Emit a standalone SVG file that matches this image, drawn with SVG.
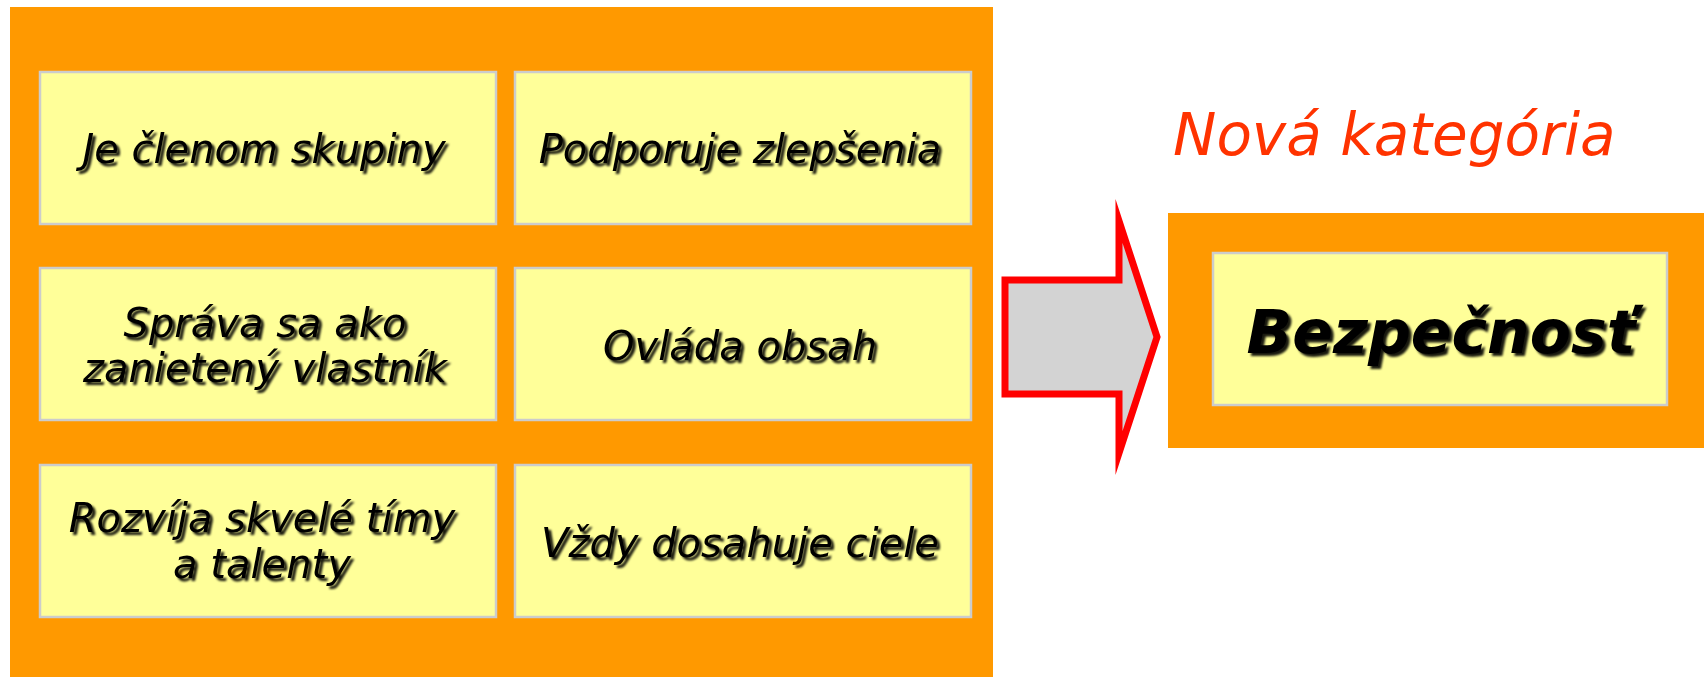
<svg xmlns="http://www.w3.org/2000/svg" width="1704" height="677" viewBox="0 0 1704 677">
  <style>
    .panel { fill: #FF9900; }
    .card { fill: #FFFF99; stroke: #CCCCCC; stroke-width: 2.5; }
    .label { font-family: "DejaVu Sans", Verdana, sans-serif; font-style: italic; font-size: 40px; fill: #000; text-anchor: middle; filter: url(#shadow); }
    .big { font-family: "DejaVu Sans", Verdana, sans-serif; font-style: italic; font-weight: bold; font-size: 60px; fill: #000; text-anchor: middle; filter: url(#shadow); }
    .title { font-family: "DejaVu Sans", Verdana, sans-serif; font-style: italic; font-size: 58px; fill: #FF3300; }
  </style>
  <defs>
    <filter id="shadow" x="-10%" y="-30%" width="120%" height="160%">
      <feDropShadow dx="3" dy="3" stdDeviation="1" flood-color="#000" flood-opacity="0.9"/>
    </filter>
  </defs>

  <rect width="1704" height="677" fill="#FFFFFF"/>

  <!-- left panel with six traits -->
  <g id="traits-panel">
    <rect class="panel" x="10" y="7" width="983" height="670"/>
  </g>

  <g id="trait-member">
    <rect class="card" x="40" y="72" width="456" height="152"/>
    <text class="label" x="264" y="163">Je členom skupiny</text>
  </g>
  <g id="trait-improvements">
    <rect class="card" x="515" y="72" width="456" height="152"/>
    <text class="label" x="740" y="163">Podporuje zlepšenia</text>
  </g>
  <g id="trait-owner">
    <rect class="card" x="40" y="268" width="456" height="152"/>
    <text class="label" x="265" y="337">Správa sa ako</text>
    <text class="label" x="265" y="382">zanietený vlastník</text>
  </g>
  <g id="trait-content">
    <rect class="card" x="515" y="268" width="456" height="152"/>
    <text class="label" x="740" y="360">Ovláda obsah</text>
  </g>
  <g id="trait-teams">
    <rect class="card" x="40" y="465" width="456" height="152"/>
    <text class="label" x="262" y="532">Rozvíja skvelé tímy</text>
    <text class="label" x="262" y="578">a talenty</text>
  </g>
  <g id="trait-goals">
    <rect class="card" x="515" y="465" width="456" height="152"/>
    <text class="label" x="740" y="557">Vždy dosahuje ciele</text>
  </g>

  <!-- block arrow -->
  <g id="connectors">
    <polygon points="1005,280 1119,280 1119,221 1157,337 1119,453 1119,394 1005,394"
             fill="#D3D3D3" stroke="#FF0000" stroke-width="7" stroke-linejoin="miter" stroke-miterlimit="10"/>
  </g>

  <!-- new category -->
  <g id="category-title">
    <text class="title" x="1173" y="155">Nová kategória</text>
  </g>
  <g id="category-safety">
    <rect class="panel" x="1168" y="213" width="536" height="235"/>
    <rect class="card" x="1213" y="253" width="454" height="152"/>
    <text class="big" x="1441" y="353">Bezpečnosť</text>
  </g>
</svg>
